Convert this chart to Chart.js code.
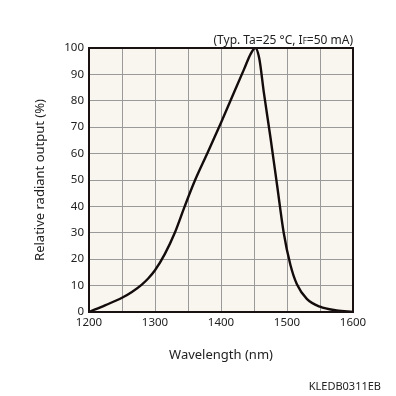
<!DOCTYPE html>
<html>
<head>
<meta charset="utf-8">
<script src="https://cdn.jsdelivr.net/npm/chart.js@4.4.0/dist/chart.umd.min.js"></script>
<style>
  html, body { margin: 0; padding: 0; background: #ffffff; }
  #wrap { width: 396px; height: 396px; }
</style>
</head>
<body>
<div id="wrap"><canvas id="spectrumChart" width="396" height="396"></canvas></div>
<script>
// Wavelength (nm) and relative radiant output (%)
const wavelengths = [1200, 1225, 1250, 1265, 1280, 1290, 1300, 1315, 1330, 1345, 1360, 1380, 1400, 1420, 1435, 1445, 1452, 1458, 1465, 1475, 1485, 1495, 1505, 1515, 1530, 1550, 1575, 1600];
const output = [0, 2.6, 5.4, 7.6, 10.4, 12.8, 15.8, 22, 30, 40, 49.5, 60.5, 71.7, 83.3, 92, 97.8, 100, 96, 83, 66, 48, 30, 18, 10.5, 5, 2, 0.6, 0];

const xTickLabels = ["1200", "1300", "1400", "1500", "1600"];
const yTickLabels = ["0", "10", "20", "30", "40", "50", "60", "70", "80", "90", "100"];

const fontFamily = "'Noto Sans', 'Liberation Sans', sans-serif";

// Plot area background, frame and the extra texts
const framePlugin = {
  id: "frame",
  beforeDraw(chart) {
    const { ctx, chartArea: a } = chart;
    ctx.save();
    ctx.fillStyle = "#f8f6ef";
    ctx.fillRect(a.left, a.top, a.right - a.left, a.bottom - a.top);
    ctx.restore();
  },
  afterDraw(chart) {
    const { ctx, chartArea: a } = chart;
    ctx.save();
    ctx.strokeStyle = "#1a1212";
    ctx.lineWidth = 2;
    ctx.strokeRect(a.left, a.top, a.right - a.left, a.bottom - a.top);

    // condition note, with subscript F
    ctx.fillStyle = "#222222";
    ctx.textBaseline = "alphabetic";
    const big = "12px " + fontFamily;
    const small = "8px " + fontFamily;
    const parts = [
      ["(Typ. Ta=25 °C, I", big],
      ["F", small],
      ["=50 mA)", big],
    ];
    let total = 0;
    parts.forEach((p) => { ctx.font = p[1]; total += ctx.measureText(p[0]).width; });
    let x = a.right - total;
    const y = 44;
    parts.forEach((p) => {
      ctx.font = p[1];
      ctx.fillText(p[0], x, y);
      x += ctx.measureText(p[0]).width;
    });

    ctx.font = "11px " + fontFamily;
    ctx.textAlign = "right";
    ctx.fillText("KLEDB0311EB", 381, 390);
    ctx.restore();
  },
};

const config = {
  type: "line",
  data: {
    datasets: [
      {
        data: wavelengths.map((w, i) => ({ x: w, y: output[i] })),
        borderColor: "#140c0c",
        borderWidth: 2.4,
        pointRadius: 0,
        fill: false,
        cubicInterpolationMode: "monotone",
      },
    ],
  },
  options: {
    responsive: false,
    animation: false,
    layout: { padding: { left: 24, right: 43, top: 48, bottom: 29 } },
    plugins: {
      legend: { display: false },
      tooltip: { enabled: false },
    },
    scales: {
      x: {
        type: "linear",
        min: 1200,
        max: 1600,
        afterFit: (scale) => { scale.height = 55; },
        grid: { color: "#9a9a9a", lineWidth: 1, drawTicks: false },
        border: { display: false },
        ticks: {
          stepSize: 50,
          padding: 4,
          color: "#222222",
          font: { family: fontFamily, size: 11.5 },
          maxRotation: 0,
          autoSkip: false,
          callback: (v) => (xTickLabels.includes(String(v)) ? String(v) : ""),
        },
        title: {
          display: true,
          text: "Wavelength (nm)",
          color: "#222222",
          font: { family: fontFamily, size: 13 },
          padding: { top: 0, bottom: 4 },
        },
      },
      y: {
        min: 0,
        max: 100,
        afterFit: (scale) => { scale.width = 65; },
        grid: { color: "#9a9a9a", lineWidth: 1, drawTicks: false },
        border: { display: false },
        ticks: {
          stepSize: 10,
          padding: 5,
          color: "#222222",
          font: { family: fontFamily, size: 11.5 },
          callback: (v) => (yTickLabels.includes(String(v)) ? String(v) : ""),
        },
        title: {
          display: true,
          text: "Relative radiant output (%)",
          color: "#222222",
          font: { family: fontFamily, size: 13 },
          padding: { top: 8, bottom: 0 },
        },
      },
    },
  },
  plugins: [framePlugin],
};

const spectrumChart = new Chart(document.getElementById("spectrumChart"), config);
</script>
</body>
</html>
